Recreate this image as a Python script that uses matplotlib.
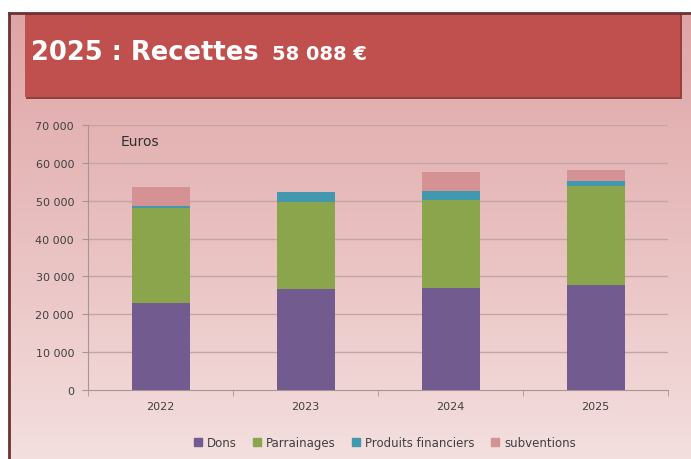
import matplotlib
matplotlib.use("Agg")
import matplotlib.pyplot as plt
import numpy as np
from matplotlib.patches import Rectangle
from matplotlib.lines import Line2D
from matplotlib.colors import LinearSegmentedColormap

years = ["2022", "2023", "2024", "2025"]
dons = [23000, 26600, 26900, 27700]
parrainages = [25000, 23100, 23400, 26200]
produits = [700, 2500, 2300, 1300]
subventions = [5000, 0, 5000, 2888]
series_names = ["Dons", "Parrainages", "Produits financiers", "subventions"]
colors = ["#725B8E", "#8AA54C", "#4198AF", "#D49294"]
title_main = "2025 : Recettes"
title_amount = "58 088 €"
ytick_vals = [0, 10000, 20000, 30000, 40000, 50000, 60000, 70000]
ytick_labels = ["0", "10 000", "20 000", "30 000", "40 000", "50 000", "60 000", "70 000"]

W, H = 691, 460
fig = plt.figure(figsize=(W / 100, H / 100), dpi=100)

# background
bg = fig.add_axes([0, 0, 1, 1], zorder=-10)
bg.set_xlim(0, W)
bg.set_ylim(H, 0)
bg.axis("off")
cmap = LinearSegmentedColormap.from_list("bg", ["#DFA5A6", "#E9C0C0", "#F4DFDF"])
grad = np.linspace(0, 1, 256).reshape(-1, 1)
bg.imshow(grad, extent=[10, W, H, 14], cmap=cmap, aspect="auto", zorder=0)
bg.add_patch(Rectangle((0, 0), W, 14, facecolor="white", edgecolor="none", zorder=1))
bg.add_patch(Rectangle((0, 0), 10, H, facecolor="white", edgecolor="none", zorder=1))
bg.plot([9, W], [14, 14], color="#6E3133", lw=2, zorder=3)
bg.plot([9.5, 9.5], [14, H], color="#6E3133", lw=2, zorder=3)
# banner shadow + banner
bg.add_patch(Rectangle((26, 15), 656, 85, facecolor="#93403E", edgecolor="none", zorder=2))
bg.add_patch(Rectangle((25, 14), 655, 84, facecolor="#C0504D", edgecolor="none", zorder=2))
bg.text(31, 53, title_main, color="white", fontsize=18.5, fontweight="bold",
        va="center", ha="left", zorder=4, family="DejaVu Sans")
bg.text(272, 54, title_amount, color="white", fontsize=14, fontweight="bold",
        va="center", ha="left", zorder=4, family="DejaVu Sans")

ax = fig.add_axes([88 / W, 1 - 391 / H, (668 - 88) / W, (391 - 126) / H])
ax.patch.set_alpha(0)
x = np.arange(len(years))
bottom = np.zeros(len(years))
for vals, c, name in zip([dons, parrainages, produits, subventions], colors, series_names):
    v = np.array(vals, dtype=float)
    ax.bar(x, v, 0.4, bottom=bottom, color=c, label=name, zorder=3)
    bottom += v

ax.set_xlim(-0.5, 3.5)
ax.set_ylim(0, 70000)
ax.set_yticks(ytick_vals)
ax.set_yticklabels(ytick_labels, fontsize=8, color="#404040")
ax.set_xticks(x)
ax.set_xticklabels(years, fontsize=8, color="#404040")
ax.set_xticks([-0.5, 0.5, 1.5, 2.5, 3.5], minor=True)
ax.tick_params(axis="x", which="major", length=0, pad=8)
ax.tick_params(axis="x", which="minor", length=4, color="#A89494", direction="out")
ax.tick_params(axis="y", length=4, color="#A89494", pad=6)
for y in ytick_vals[1:]:
    ax.axhline(y, color="#C3A5A6", lw=1.0, zorder=1)
for s in ["top", "right"]:
    ax.spines[s].set_visible(False)
ax.spines["left"].set_color("#A89494")
ax.spines["bottom"].set_color("#A89494")
ax.text(121, 142, "Euros", transform=bg.transData, fontsize=10, color="#303030",
        va="center", ha="left")

handles = [Line2D([], [], marker="s", linestyle="none", markersize=5.5,
                  markerfacecolor=c, markeredgecolor=c) for c in colors]
fig.legend(handles, series_names, loc="center", bbox_to_anchor=(384 / W, 1 - 444 / H),
           ncol=4, frameon=False, fontsize=8.5, handletextpad=0.3, columnspacing=1.3,
           labelcolor="#404040", handlelength=0.9)

fig.savefig("out.png", dpi=100)
